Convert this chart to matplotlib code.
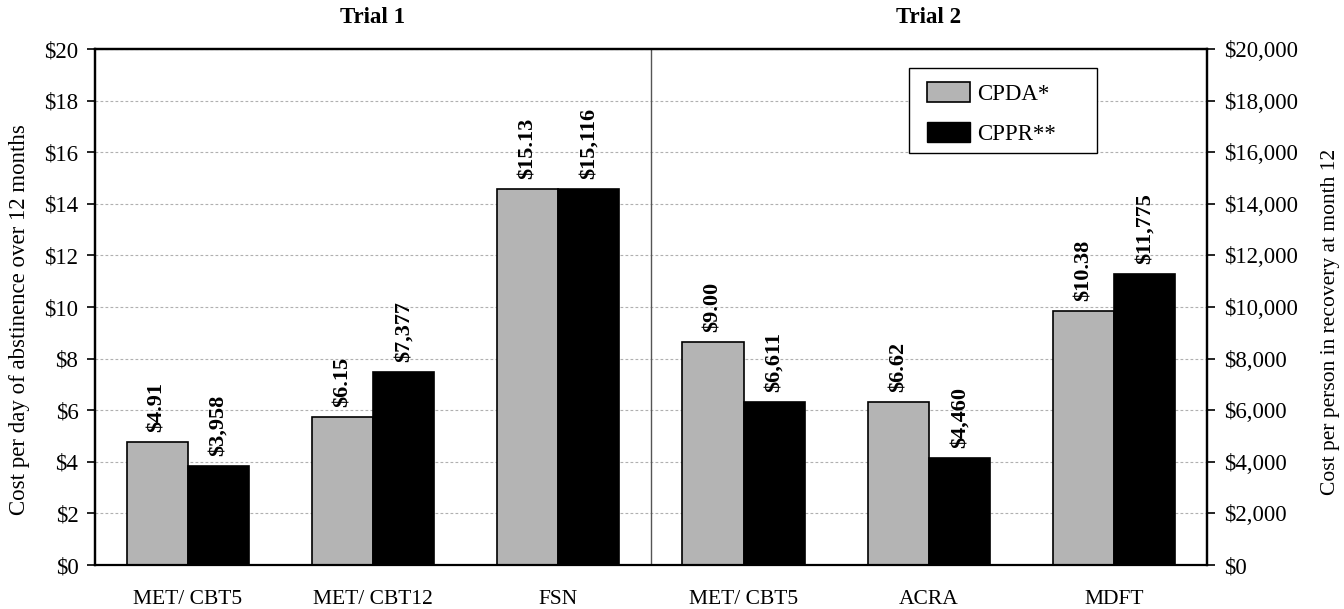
import matplotlib
matplotlib.use("Agg")
import matplotlib.pyplot as plt
import matplotlib.transforms as mtransforms
from matplotlib.patches import Patch, Rectangle
import numpy as np

plt.rcParams['font.family'] = ['Liberation Serif', 'DejaVu Serif']

categories = ["MET/ CBT5", "MET/ CBT12", "FSN", "MET/ CBT5", "ACRA", "MDFT"]
trials = ["Trial 1", "Trial 2"]
# bar heights as drawn in the picture
cpda_values = [4.77, 5.74, 14.57, 8.64, 6.32, 9.84]          # left axis, $
cppr_values = [3840, 7480, 14570, 6320, 4150, 11280]         # right axis, $
# printed value labels
cpda_labels = ["$4.91", "$6.15", "$15.13", "$9.00", "$6.62", "$10.38"]
cppr_labels = ["$3,958", "$7,377", "$15,116", "$6,611", "$4,460", "$11,775"]
left_ticks = list(range(0, 21, 2))
right_ticks = list(range(0, 20001, 2000))

fig = plt.figure(figsize=(13.44, 6.09), dpi=100)
ax = fig.add_axes([0.0707, 0.0722, 0.8273, 0.8473])
ax2 = ax.twinx()

x = np.arange(len(categories))
w = 0.33
gray = "#b4b4b4"

ax.bar(x - w / 2, cpda_values, width=w, color=gray, edgecolor="black", linewidth=1.2, zorder=3)
ax2.bar(x + w / 2, cppr_values, width=w, color="black", edgecolor="black", linewidth=1.2, zorder=3)

ax.set_xlim(-0.5, len(categories) - 0.5)
ax.set_ylim(0, 20)
ax2.set_ylim(0, 20000)
ax.set_yticks(left_ticks)
ax.set_yticklabels([f"${v}" for v in left_ticks])
ax2.set_yticks(right_ticks)
ax2.set_yticklabels([f"${v:,}" for v in right_ticks])

ax.set_xticks(x)
ax.set_xticklabels(categories)
ax.tick_params(axis="x", length=0, pad=18, labelsize=15.5)
ax.tick_params(axis="y", length=6, width=1.2, pad=6, labelsize=16.5, direction="out")
ax2.tick_params(axis="y", length=6, width=1.2, pad=6, labelsize=16.5, direction="out")

ax.yaxis.grid(True, linestyle=(0, (2.5, 2)), color="#b0b0b0", linewidth=0.8, zorder=0)
ax.set_axisbelow(True)

for a in (ax, ax2):
    for s in a.spines.values():
        s.set_linewidth(1.6)
ax.spines["bottom"].set_linewidth(1.4)

ax.axvline(2.5, color="#555555", linewidth=1.0, zorder=2)

fig.text(20 / 1344, 1 - 320 / 609, "Cost per day of abstinence over 12 months",
         rotation=90, ha="center", va="center", fontsize=16.5)
fig.text(1331 / 1344, 1 - 322 / 609, "Cost per person in recovery at month 12",
         rotation=90, ha="center", va="center", fontsize=15.5)

for xi, v, lab in zip(x, cpda_values, cpda_labels):
    ax.annotate(lab, (xi - w / 2, v), xytext=(0, 7), textcoords="offset points",
                rotation=90, ha="center", va="bottom", fontsize=16, fontweight="bold", zorder=4)
for xi, v, lab in zip(x, cppr_values, cppr_labels):
    ax2.annotate(lab, (xi + w / 2, v), xytext=(0, 7), textcoords="offset points",
                 rotation=90, ha="center", va="bottom", fontsize=16, fontweight="bold", zorder=4)

trans = mtransforms.blended_transform_factory(ax.transData, ax.transAxes)
for cx, t in zip([1, 4], trials):
    ax.text(cx, 1.062, t, transform=trans, ha="center", va="center",
            fontsize=16.5, fontweight="bold")

# legend frame
ax2.add_patch(Rectangle((0.732, 0.798), 0.169, 0.165, transform=ax2.transAxes,
                        facecolor="white", edgecolor="black", linewidth=1.0, zorder=5))
handles = [Patch(facecolor=gray, edgecolor="black", linewidth=1.2, label="CPDA*"),
           Patch(facecolor="black", edgecolor="black", label="CPPR**")]
leg = ax2.legend(handles=handles, loc="upper left", bbox_to_anchor=(0.748, 0.937),
                 frameon=False, fontsize=16.5,
                 handlelength=1.9, handleheight=1.0, borderpad=0.0, labelspacing=0.75,
                 handletextpad=0.3, borderaxespad=0)
leg.set_zorder(6)

fig.savefig("out.png", dpi=100)
